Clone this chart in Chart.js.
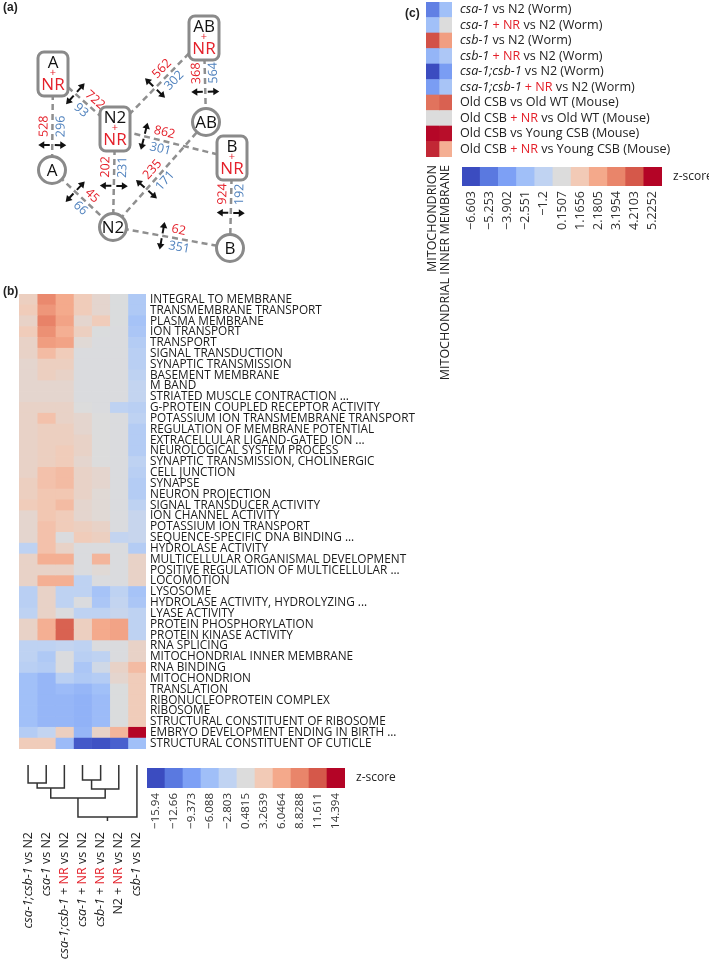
<!DOCTYPE html>
<html>
<head>
<meta charset="utf-8">
<title>Heatmaps and network</title>
<script src="https://cdn.jsdelivr.net/npm/chart.js@4.4.1/dist/chart.umd.min.js"></script>
<style>
    body { margin: 0; background: #fff; width: 709px; height: 962px; position: relative; overflow: hidden; }
    canvas { position: absolute; }
</style>
</head>
<body>
<canvas id="networkChart" style="left:0;top:0" width="260" height="270"></canvas>
<canvas id="heatmapChart" style="left:0;top:283px" width="420" height="477"></canvas>
<canvas id="dendroChart" style="left:19px;top:763px" width="127" height="199"></canvas>
<canvas id="scaleChartB" style="left:147px;top:768px" width="260" height="70"></canvas>
<canvas id="mitoChart" style="left:400px;top:2px" width="309" height="400"></canvas>
<canvas id="scaleChartC" style="left:462px;top:167px" width="247" height="85"></canvas>
<script>
// ---- panel (a): network of comparisons ----
const nodeNames = ['A', 'AB', 'N2', 'B', 'A', 'AB', 'N2', 'B'];
const nodeWithNR = [true, true, true, true, false, false, false, false];
const nodeX = [53, 204, 115, 232, 52, 206, 113, 230];
const nodeY = [74, 38, 129, 158, 170, 122, 227, 248];
const edgeFrom = [0, 0, 2, 1, 2, 2, 6, 4, 3, 6];
const edgeTo = [4, 2, 1, 5, 3, 6, 5, 6, 7, 7];
const edgeUp = [528, 722, 562, 368, 862, 202, 235, 45, 924, 62];
const edgeDown = [296, 93, 302, 564, 301, 231, 171, 66, 192, 351];
const edgeArrowAt = [0.74, 0.36, 0.45, 0.64, 0.25, 0.58, 0.36, 0.38, 0.61, 0.42];

// ---- panel (b): GO term heatmap ----
const termLabels = [
    'INTEGRAL TO MEMBRANE', 'TRANSMEMBRANE TRANSPORT', 'PLASMA MEMBRANE', 'ION TRANSPORT',
    'TRANSPORT', 'SIGNAL TRANSDUCTION', 'SYNAPTIC TRANSMISSION', 'BASEMENT MEMBRANE', 'M BAND',
    'STRIATED MUSCLE CONTRACTION ...', 'G-PROTEIN COUPLED RECEPTOR ACTIVITY',
    'POTASSIUM ION TRANSMEMBRANE TRANSPORT', 'REGULATION OF MEMBRANE POTENTIAL',
    'EXTRACELLULAR LIGAND-GATED ION ...', 'NEUROLOGICAL SYSTEM PROCESS',
    'SYNAPTIC TRANSMISSION, CHOLINERGIC', 'CELL JUNCTION', 'SYNAPSE', 'NEURON PROJECTION',
    'SIGNAL TRANSDUCER ACTIVITY', 'ION CHANNEL ACTIVITY', 'POTASSIUM ION TRANSPORT',
    'SEQUENCE-SPECIFIC DNA BINDING ...', 'HYDROLASE ACTIVITY', 'MULTICELLULAR ORGANISMAL DEVELOPMENT',
    'POSITIVE REGULATION OF MULTICELLULAR ...', 'LOCOMOTION', 'LYSOSOME',
    'HYDROLASE ACTIVITY, HYDROLYZING ...', 'LYASE ACTIVITY', 'PROTEIN PHOSPHORYLATION',
    'PROTEIN KINASE ACTIVITY', 'RNA SPLICING', 'MITOCHONDRIAL INNER MEMBRANE', 'RNA BINDING',
    'MITOCHONDRION', 'TRANSLATION', 'RIBONUCLEOPROTEIN COMPLEX', 'RIBOSOME',
    'STRUCTURAL CONSTITUENT OF RIBOSOME', 'EMBRYO DEVELOPMENT ENDING IN BIRTH ...',
    'STRUCTURAL CONSTITUENT OF CUTICLE'
];
// z-scores, one array per comparison column
const zCsaCsb = [2.5, 3, 2, 3, 2, 2, 1.5, 1.5, 1.5, 1.5, 2, 2, 2, 2, 2, 2, 2, 2.5, 2.5, 3, 1.5, 1.5, 1.5, -3, 2, 2, 2, -3.5, -3.5, -3, 2, 2, -3, -3, -3.5, -6, -6, -6, -6, -6, -4, 3];
const zCsa = [8.5, 7.5, 9, 8, 7, 4.5, 2.5, 2.5, 1.5, 1.5, 2, 4, 2.5, 2.5, 2.5, 2.5, 4, 4, 3.5, 3.5, 3.5, 4, 4, 4, 5.5, 2, 5.5, 2, 2, 2, 5.5, 5.5, -3, -4.5, -4, -7, -7, -7, -7, -7, -2.5, 3];
const zCsaCsbNR = [6, 6, 6.5, 5.5, 6.5, 3, 2.5, 2, 1.5, 1.5, 2, 2, 2.5, 2.5, 3, 3, 4.5, 4.5, 3.5, 4.5, 3, 3, 0.2, 2, 5.5, 2, 5.5, -3, -3, 0.2, 11, 11, -2.5, 0.2, 0.2, -3.5, -6.5, -7, -7, -7, 2.5, -6.5];
const zCsaNR = [3, 3, 1.5, 2.5, 1, 0.2, 0.2, 0.2, 0.2, 0.2, 0.5, 1.5, 1.5, 2, 2, 1.5, 2, 2, 2, 1.5, 1.5, 2.5, 3, 0.2, 0.2, 0.2, -3, -3, 0.2, -3, 2.5, 2.5, -3, -3.5, -5, -4.5, -7, -7.5, -7.5, -7.5, -7, -15];
const zCsbNR = [1.5, 1.5, 3, 0.3, 0.2, 0.2, 0.2, 0.2, 0.2, 0.2, 0.2, 0.5, 0.5, 0.5, 0.5, 0.5, 1.5, 1.5, 1, 1, 1, 2, 2.5, 0.2, 5, 1, 0.2, -5.5, -5, -3, 6, 6, 0.2, -3, -1, -4, -6, -6.5, -6.5, -6.5, 2, -15.5];
const zN2NR = [0.3, 0.3, 0.3, 0.2, 0.2, 0.2, 0.2, 0.2, 0.2, 0.2, -3, 0.2, 0.2, 0.2, 0.2, 0.2, 0.2, 0.2, 0.2, 0.2, 0.2, 0.2, -2.5, 0.2, 0.2, 0.2, 0.2, -3, -2.5, -2, 6.5, 6.5, 0.2, 0.2, 2, 1.5, 0.3, 0.3, 0.3, 0.3, 5, -14.5];
const zCsb = [-4.5, -4.5, -5.5, -5, -4, -3.5, -3.5, -3, -2.5, -2.5, -3.5, -3, -4, -4, -4, -3, -3.5, -4, -4, -3, -2, -2, -2, -4, 2, 2, 2, -5.5, -5, -3, -3, -3, 2, 2, 4.5, 3, 3, 3, 3, 3, 14.4, -6];
const columnLabels = [
    [['csa-1;csb-1', 'i'], [' vs N2', '']],
    [['csa-1', 'i'], [' vs N2', '']],
    [['csa-1;csb-1', 'i'], [' + ', ''], ['NR', 'r'], [' vs N2', '']],
    [['csa-1', 'i'], [' + ', ''], ['NR', 'r'], [' vs N2', '']],
    [['csb-1', 'i'], [' + ', ''], ['NR', 'r'], [' vs N2', '']],
    [['N2 + ', ''], ['NR', 'r'], [' vs N2', '']],
    [['csb-1', 'i'], [' vs N2', '']]
];
// dendrogram merges: leaves 0-6, merged clusters numbered from 7
const dendroLeft = [0, 7, 3, 9, 8, 11];
const dendroRight = [1, 2, 4, 5, 10, 6];
const dendroHeight = [18, 23, 15, 24, 33, 52];
const scaleTicksB = ['−15.94', '−12.66', '−9.373', '−6.088', '−2.803', '0.4815', '3.2639', '6.0464', '8.8288', '11.611', '14.394'];

// ---- panel (c): mitochondrial terms across worm and mouse ----
const mitoTerms = ['MITOCHONDRION', 'MITOCHONDRIAL INNER MEMBRANE'];
const mitoComparisons = [
    [['csa-1', 'i'], [' vs N2 (Worm)', '']],
    [['csa-1', 'i'], [' + NR', 'r'], [' vs N2 (Worm)', '']],
    [['csb-1', 'i'], [' vs N2 (Worm)', '']],
    [['csb-1', 'i'], [' + NR', 'r'], [' vs N2 (Worm)', '']],
    [['csa-1;csb-1', 'i'], [' vs N2 (Worm)', '']],
    [['csa-1;csb-1', 'i'], [' + NR', 'r'], [' vs N2 (Worm)', '']],
    [['Old CSB vs Old WT (Mouse)', '']],
    [['Old CSB', ''], [' + NR', 'r'], [' vs Old WT (Mouse)', '']],
    [['Old CSB vs Young CSB (Mouse)', '']],
    [['Old CSB', ''], [' + NR', 'r'], [' vs Young CSB (Mouse)', '']]
];
const zMitochondrion = [-5, -2.5, 4.3, -3, -6.6, -4, 3.6, 0.15, 5.2, 4.8];
const zMitoInner = [-2.5, 0.15, 2.5, -2, -4, -2.2, 4, 0.15, 5.1, 2.0];
const scaleTicksC = ['−6.603', '−5.253', '−3.902', '−2.551', '−1.2', '0.1507', '1.1656', '2.1805', '3.1954', '4.2103', '5.2252'];

const scaleColors = ['#3b4cc0', '#5a79e0', '#7da0f5', '#a0bff8', '#c0d3f2', '#dcdcdc',
    '#f2cab6', '#f4a98b', '#e9856a', '#d5584a', '#b40426'];

const RED = '#e4202a';
const BLUE = '#4f81bd';
const FONT = "'Open Sans', 'DejaVu Sans', sans-serif";

Chart.defaults.font.family = FONT;
Chart.defaults.color = '#222';
Chart.defaults.animation = false;
Chart.defaults.responsive = false;
Chart.defaults.layout.autoPadding = false;
Chart.defaults.plugins.legend.display = false;
Chart.defaults.plugins.tooltip.enabled = false;

// Map a z-score onto the colour bar by interpolating between tick values
function toNumber(tick) {
    return parseFloat(tick.replace('−', '-'));
}

function hexToRgb(hex) {
    return [1, 3, 5].map(i => parseInt(hex.substr(i, 2), 16));
}

function zColor(value, ticks) {
    const stops = ticks.map(toNumber);
    if (value <= stops[0]) return scaleColors[0];
    if (value >= stops[stops.length - 1]) return scaleColors[scaleColors.length - 1];
    for (let i = 0; i < stops.length - 1; i++) {
        if (value <= stops[i + 1]) {
            const f = (value - stops[i]) / (stops[i + 1] - stops[i]);
            const a = hexToRgb(scaleColors[i]);
            const b = hexToRgb(scaleColors[i + 1]);
            const c = a.map((v, k) => Math.round(v + (b[k] - v) * f));
            return `rgb(${c[0]}, ${c[1]}, ${c[2]})`;
        }
    }
}

// Write a label made of plain, italic and red pieces
function segmentsWidth(ctx, segments, size) {
    let w = 0;
    segments.forEach(([text, style]) => {
        ctx.font = (style.includes('i') ? 'italic ' : '') + size + 'px ' + FONT;
        w += ctx.measureText(text).width;
    });
    return w;
}

function drawSegments(ctx, segments, x, y, size) {
    let cx = x;
    ctx.textAlign = 'left';
    ctx.textBaseline = 'middle';
    segments.forEach(([text, style]) => {
        ctx.font = (style.includes('i') ? 'italic ' : '') + size + 'px ' + FONT;
        ctx.fillStyle = style.includes('r') ? RED : '#222';
        ctx.fillText(text, cx, y);
        cx += ctx.measureText(text).width;
    });
}

function panelLetter(ctx, text, x, y) {
    ctx.save();
    ctx.font = "bold 12px 'Liberation Sans', Arial, sans-serif";
    ctx.fillStyle = '#222';
    ctx.textAlign = 'left';
    ctx.textBaseline = 'middle';
    ctx.fillText(text, x, y);
    ctx.restore();
}

// ---------- (a) network ----------
function drawArrow(ctx, dir) {
    ctx.beginPath();
    ctx.moveTo(0, dir * 2.5);
    ctx.lineTo(0, dir * 9);
    ctx.stroke();
    ctx.beginPath();
    ctx.moveTo(0, dir * 14);
    ctx.lineTo(-3.8, dir * 8);
    ctx.lineTo(3.8, dir * 8);
    ctx.closePath();
    ctx.fill();
}

function roundedRect(ctx, x, y, w, h, r) {
    ctx.beginPath();
    ctx.moveTo(x + r, y);
    ctx.arcTo(x + w, y, x + w, y + h, r);
    ctx.arcTo(x + w, y + h, x, y + h, r);
    ctx.arcTo(x, y + h, x, y, r);
    ctx.arcTo(x, y, x + w, y, r);
    ctx.closePath();
}

const networkPlugin = {
    id: 'networkDecor',
    afterDatasetsDraw(chart) {
        const ctx = chart.ctx;
        const xs = chart.scales.x;
        const ys = chart.scales.y;
        ctx.save();

        // arrows and gene counts on each edge
        edgeFrom.forEach((f, i) => {
            const t = edgeTo[i];
            const ax = xs.getPixelForValue(nodeX[f]), ay = ys.getPixelForValue(nodeY[f]);
            const bx = xs.getPixelForValue(nodeX[t]), by = ys.getPixelForValue(nodeY[t]);
            const len = Math.hypot(bx - ax, by - ay);
            let dx = (bx - ax) / len, dy = (by - ay) / len;
            const px = ax + (bx - ax) * edgeArrowAt[i];
            const py = ay + (by - ay) * edgeArrowAt[i];
            if (dx < 0 || dy > 0.9) { dx = -dx; dy = -dy; }
            ctx.save();
            ctx.translate(px, py);
            ctx.rotate(Math.atan2(dy, dx));
            ctx.fillStyle = '#111';
            ctx.strokeStyle = '#111';
            ctx.lineWidth = 2;
            drawArrow(ctx, -1);
            drawArrow(ctx, 1);
            ctx.font = '12.5px ' + FONT;
            ctx.textAlign = 'left';
            ctx.textBaseline = 'middle';
            ctx.fillStyle = RED;
            ctx.fillText(String(edgeUp[i]), 8, -8.5);
            ctx.fillStyle = BLUE;
            ctx.fillText(String(edgeDown[i]), 8, 8.5);
            ctx.restore();
        });

        // nodes
        nodeNames.forEach((name, i) => {
            const cx = xs.getPixelForValue(nodeX[i]);
            const cy = ys.getPixelForValue(nodeY[i]);
            ctx.textAlign = 'center';
            ctx.textBaseline = 'middle';
            if (nodeWithNR[i]) {
                roundedRect(ctx, cx - 15, cy - 22, 30, 44, 6);
                ctx.fillStyle = '#fff';
                ctx.fill();
                ctx.strokeStyle = '#8a8a8a';
                ctx.lineWidth = 3;
                ctx.stroke();
                ctx.fillStyle = '#111';
                ctx.font = '17px ' + FONT;
                ctx.fillText(name, cx, cy - 11);
                ctx.fillStyle = RED;
                ctx.font = '11px ' + FONT;
                ctx.fillText('+', cx, cy - 1);
                ctx.font = '17px ' + FONT;
                ctx.fillText('NR', cx, cy + 11);
            } else {
                ctx.fillStyle = '#111';
                ctx.font = '17px ' + FONT;
                ctx.fillText(name, cx, cy + 1);
            }
        });

        panelLetter(ctx, '(a)', 3, 8);
        ctx.restore();
    }
};

const edgeDatasets = edgeFrom.map((f, i) => ({
    data: [{ x: nodeX[f], y: nodeY[f] }, { x: nodeX[edgeTo[i]], y: nodeY[edgeTo[i]] }],
    showLine: true,
    borderColor: '#8f8f8f',
    borderWidth: 2.5,
    borderDash: [6, 4],
    pointRadius: 0,
    order: 2
}));

const plainNodes = nodeNames.map((n, i) => i).filter(i => !nodeWithNR[i]);

new Chart(document.getElementById('networkChart'), {
    type: 'scatter',
    data: {
        datasets: [
            {
                data: plainNodes.map(i => ({ x: nodeX[i], y: nodeY[i] })),
                pointRadius: 13.5,
                pointBackgroundColor: '#fff',
                pointBorderColor: '#8a8a8a',
                pointBorderWidth: 3,
                order: 0
            },
            ...edgeDatasets
        ]
    },
    options: {
        layout: { padding: 0 },
        scales: {
            x: { type: 'linear', min: 0, max: 260, display: false },
            y: { type: 'linear', min: 0, max: 270, reverse: true, display: false }
        }
    },
    plugins: [networkPlugin]
});

// ---------- (b) heatmap ----------
const heatColumns = [zCsaCsb, zCsa, zCsaCsbNR, zCsaNR, zCsbNR, zN2NR, zCsb];

new Chart(document.getElementById('heatmapChart'), {
    type: 'bar',
    data: {
        labels: termLabels,
        datasets: heatColumns.map(col => ({
            data: col.map(() => 1),
            backgroundColor: col.map(v => zColor(v, scaleTicksB)),
            borderWidth: 0,
            barPercentage: 1,
            categoryPercentage: 1
        }))
    },
    options: {
        indexAxis: 'y',
        layout: { padding: { left: 19 } },
        scales: {
            x: { stacked: true, min: 0, max: 7, display: false },
            y: {
                stacked: true,
                position: 'right',
                grid: { display: false, drawTicks: false },
                border: { display: false },
                ticks: { autoSkip: false, padding: 4, color: '#1a1a1a', font: { size: 11.8 } },
                afterFit(scale) { scale.width = 274; }
            }
        }
    },
    plugins: [{
        id: 'panelB',
        afterDraw(chart) { panelLetter(chart.ctx, '(b)', 3, 9); }
    }]
});

// ---------- (b) dendrogram and column labels ----------
const leafCount = columnLabels.length;
const clusterX = columnLabels.map((c, i) => i + 0.5);
const clusterH = columnLabels.map(() => 0);
const dendroDatasets = dendroLeft.map((l, i) => {
    const r = dendroRight[i];
    const h = dendroHeight[i];
    clusterX.push((clusterX[l] + clusterX[r]) / 2);
    clusterH.push(h);
    return {
        data: [
            { x: clusterX[l], y: clusterH[l] }, { x: clusterX[l], y: h },
            { x: clusterX[r], y: h }, { x: clusterX[r], y: clusterH[r] }
        ],
        showLine: true,
        borderColor: '#333',
        borderWidth: 1.5,
        pointRadius: 0
    };
});
const rootX = clusterX[clusterX.length - 1];
const rootH = dendroHeight[dendroHeight.length - 1];
dendroDatasets.push({
    data: [{ x: rootX, y: rootH }, { x: rootX, y: rootH + 4 }],
    showLine: true, borderColor: '#333', borderWidth: 1.5, pointRadius: 0
});

new Chart(document.getElementById('dendroChart'), {
    type: 'scatter',
    data: { datasets: dendroDatasets },
    options: {
        layout: { padding: 0 },
        scales: {
            x: { type: 'linear', min: 0, max: leafCount, display: false },
            y: { type: 'linear', min: -2, max: 197, reverse: true, display: false }
        }
    },
    plugins: [{
        id: 'columnLabels',
        afterDatasetsDraw(chart) {
            const ctx = chart.ctx;
            const y = chart.scales.y.getPixelForValue(67);
            columnLabels.forEach((segs, i) => {
                const x = chart.scales.x.getPixelForValue(i + 0.5);
                ctx.save();
                ctx.translate(x, y);
                ctx.rotate(-Math.PI / 2);
                const w = segmentsWidth(ctx, segs, 12.5);
                drawSegments(ctx, segs, -w, 0, 12.5);
                ctx.restore();
            });
        }
    }]
});

// ---------- colour bars ----------
function colourBar(canvasId, ticks, axisHeight, rightPad, fontSize) {
    new Chart(document.getElementById(canvasId), {
        type: 'bar',
        data: {
            labels: ticks,
            datasets: [{
                data: ticks.map(() => 1),
                backgroundColor: scaleColors,
                borderWidth: 0,
                barPercentage: 1,
                categoryPercentage: 1
            }]
        },
        options: {
            layout: { padding: { right: rightPad } },
            scales: {
                x: {
                    grid: { display: false, drawTicks: false },
                    border: { display: false },
                    ticks: { minRotation: 90, maxRotation: 90, padding: 5, color: '#333', font: { size: fontSize } },
                    afterFit(scale) { scale.height = axisHeight; }
                },
                y: { min: 0, max: 1, display: false }
            }
        },
        plugins: [{
            id: 'zLabel',
            afterDraw(chart) {
                const ctx = chart.ctx;
                const a = chart.chartArea;
                ctx.save();
                ctx.font = '12px ' + FONT;
                ctx.fillStyle = '#222';
                ctx.textAlign = 'left';
                ctx.textBaseline = 'middle';
                ctx.fillText('z-score', a.right + 11, (a.top + a.bottom) / 2);
                ctx.restore();
            }
        }]
    });
}

colourBar('scaleChartB', scaleTicksB, 50, 62, 11.5);
colourBar('scaleChartC', scaleTicksC, 66, 47, 12.5);

// ---------- (c) mitochondrial heatmap ----------
new Chart(document.getElementById('mitoChart'), {
    type: 'bar',
    data: {
        labels: mitoComparisons.map(segs => segs.map(s => s[0]).join('')),
        datasets: [zMitochondrion, zMitoInner].map(col => ({
            data: col.map(() => 1),
            backgroundColor: col.map(v => zColor(v, scaleTicksC)),
            borderWidth: 0,
            barPercentage: 1,
            categoryPercentage: 1
        }))
    },
    options: {
        indexAxis: 'y',
        layout: { padding: { left: 26, right: 257, bottom: 245 } },
        scales: {
            x: { stacked: true, min: 0, max: 2, display: false },
            y: { stacked: true, display: false }
        }
    },
    plugins: [{
        id: 'mitoLabels',
        afterDraw(chart) {
            const ctx = chart.ctx;
            const a = chart.chartArea;
            ctx.save();
            mitoComparisons.forEach((segs, i) => {
                drawSegments(ctx, segs, a.right + 8, chart.scales.y.getPixelForValue(i), 12.6);
            });
            mitoTerms.forEach((term, i) => {
                const x = chart.scales.x.getPixelForValue(i + 0.5);
                ctx.save();
                ctx.translate(x, a.bottom + 8);
                ctx.rotate(-Math.PI / 2);
                ctx.font = '12.5px ' + FONT;
                ctx.fillStyle = '#222';
                ctx.textAlign = 'right';
                ctx.textBaseline = 'middle';
                ctx.fillText(term, 0, 0);
                ctx.restore();
            });
            panelLetter(ctx, '(c)', 5, 12);
            ctx.restore();
        }
    }]
});
</script>
</body>
</html>
